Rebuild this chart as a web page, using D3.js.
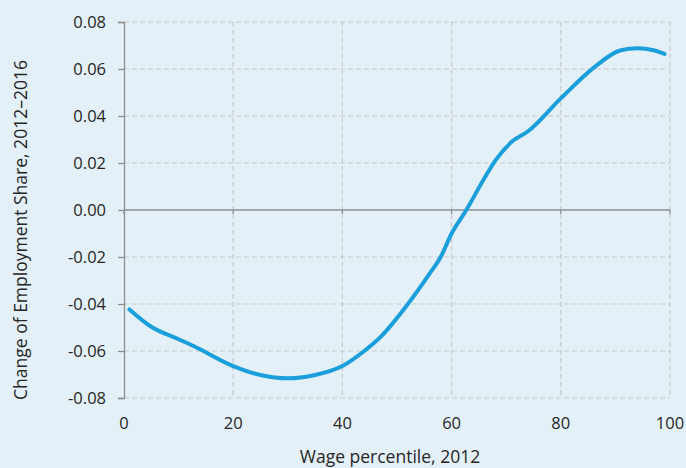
<!DOCTYPE html>
<html>
<head>
<meta charset="utf-8">
<script src="https://cdn.jsdelivr.net/npm/d3@7"></script>
<style>
  html, body { margin: 0; padding: 0; background: #e4f0f7; }
  svg { display: block; font-family: "Open Sans", "Noto Sans", sans-serif; }
</style>
</head>
<body>
<svg id="chart" width="686" height="468"></svg>
<script>
// Wage percentile (2012) and change of employment share, 2012–2016
const percentiles = [1, 5, 10, 13, 20, 25, 30, 35, 40, 44, 47, 52, 56, 58, 60, 62.7, 66, 68, 71, 74, 80, 86, 91, 94, 97, 99];
const shareChange = [-0.0423, -0.0497, -0.055, -0.0582, -0.0664, -0.0702, -0.0716, -0.0702, -0.0664, -0.060, -0.054, -0.040, -0.027, -0.020, -0.010, 0.000, 0.0135, 0.021, 0.029, 0.0335, 0.0475, 0.0605, 0.068, 0.0688, 0.068, 0.0664];
const xTicks = [0, 20, 40, 60, 80, 100];
const yTicks = [-0.08, -0.06, -0.04, -0.02, 0, 0.02, 0.04, 0.06, 0.08];
const xTitle = "Wage percentile, 2012";
const yTitle = "Change of Employment Share, 2012\u20132016";

const svg = d3.select("#chart");
const margin = { left: 124, right: 16, top: 22, bottom: 70 };
const W = 686, H = 468;

const x = d3.scaleLinear().domain([0, 100]).range([margin.left, W - margin.right]);
const y = d3.scaleLinear().domain([-0.08, 0.08]).range([H - margin.bottom, margin.top]);

const gridColor = "#c7c9cb";
const axisColor = "#8e8e8e";
const textColor = "#262626";

// dashed gridlines
svg.append("g").selectAll("line").data(yTicks.filter(d => d !== 0)).join("line")
  .attr("x1", x(0)).attr("x2", x(100))
  .attr("y1", d => y(d)).attr("y2", d => y(d))
  .attr("stroke", gridColor).attr("stroke-width", 1.2)
  .attr("stroke-dasharray", "5,3");
svg.append("g").selectAll("line").data(xTicks.filter(d => d !== 0)).join("line")
  .attr("x1", d => x(d)).attr("x2", d => x(d))
  .attr("y1", y(0.08)).attr("y2", y(-0.08))
  .attr("stroke", gridColor).attr("stroke-width", 1.2)
  .attr("stroke-dasharray", "5,3");

// zero baseline with small ticks
svg.append("line")
  .attr("x1", x(0)).attr("x2", x(100))
  .attr("y1", y(0)).attr("y2", y(0))
  .attr("stroke", axisColor).attr("stroke-width", 1.3);
svg.append("g").selectAll("line").data(xTicks).join("line")
  .attr("x1", d => x(d)).attr("x2", d => x(d))
  .attr("y1", y(0)).attr("y2", y(0) + 4)
  .attr("stroke", axisColor).attr("stroke-width", 1.3);

// left axis
const yAxis = d3.axisLeft(y).tickValues(yTicks).tickSize(6).tickPadding(12)
  .tickFormat(d => d3.format(".2f")(d).replace("\u2212", "-"));
const gy = svg.append("g").attr("transform", `translate(${x(0)},0)`).call(yAxis);
gy.select(".domain").attr("stroke", axisColor).attr("stroke-width", 1.3);
gy.selectAll(".tick line").attr("stroke", axisColor).attr("stroke-width", 1.3);
gy.selectAll(".tick text").attr("fill", textColor)
  .style("font-family", "'Open Sans', sans-serif").style("font-size", "16.5px");

// bottom tick labels
svg.append("g").selectAll("text").data(xTicks).join("text")
  .attr("x", d => x(d)).attr("y", 429)
  .attr("text-anchor", "middle").attr("fill", textColor)
  .style("font-size", "16.5px")
  .text(d => d);

// axis titles
svg.append("text")
  .attr("x", 390).attr("y", 463)
  .attr("text-anchor", "middle").attr("fill", textColor)
  .style("font-size", "17.5px")
  .text(xTitle);
svg.append("text")
  .attr("transform", `translate(27,230) rotate(-90)`)
  .attr("text-anchor", "middle").attr("fill", textColor)
  .style("font-size", "17.5px")
  .text(yTitle);

// employment share curve
const pts = percentiles.map((p, i) => [p, shareChange[i]]);
const line = d3.line().x(d => x(d[0])).y(d => y(d[1])).curve(d3.curveMonotoneX);
svg.append("path")
  .datum(pts)
  .attr("d", line)
  .attr("fill", "none")
  .attr("stroke", "#1a9fdb")
  .attr("stroke-width", 4)
  .attr("stroke-linecap", "round")
  .attr("stroke-linejoin", "round");
</script>
</body>
</html>
